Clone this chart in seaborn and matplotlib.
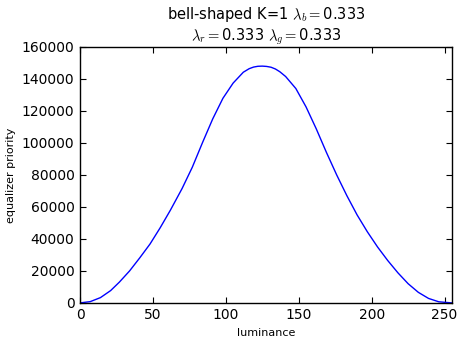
import numpy as np
import seaborn as sns
from matplotlib import pyplot as plt

# values
luminance = [0, 7, 14, 21, 27, 34, 41, 48, 55, 62, 70, 77, 84, 91, 98, 105, 112, 116,
             119, 122, 125, 128, 131, 134, 137, 141, 148, 155, 162, 169, 176, 183, 190,
             197, 204, 211, 218, 225, 232, 239, 246, 255]
priority = [0, 800, 3300, 7700, 13000, 20000, 28200, 36800, 47000, 58000, 71500, 84800,
            100200, 115000, 127900, 137400, 144200, 146400, 147400, 147900, 148000, 147800,
            147300, 146200, 144500, 141500, 134000, 122500, 108800, 94000, 80000, 67000,
            55000, 44500, 35000, 26500, 18800, 12000, 6600, 2800, 700, 0]

sns.set_style("white")
plt.rcParams.update({
    "font.family": ["DejaVu Sans"],
    "mathtext.fontset": "cm",
    "text.color": "black",
    "axes.labelcolor": "black",
    "xtick.color": "black",
    "ytick.color": "black",
    "xtick.direction": "in",
    "ytick.direction": "in",
    "xtick.top": True,
    "ytick.right": True,
    "xtick.bottom": True,
    "ytick.left": True,
    "xtick.major.size": 4,
    "ytick.major.size": 4,
    "axes.edgecolor": "black",
    "axes.linewidth": 1.0,
})

fig = plt.figure(figsize=(4.63, 3.45), dpi=100)
ax = fig.add_axes([0.1728, 0.122, 0.8032, 0.742])

sns.lineplot(x=luminance, y=priority, ax=ax, color="#0000ff", linewidth=1.0)

ax.set_xlim(0, 255)
ax.set_ylim(0, 160000)
ax.set_xticks([0, 50, 100, 150, 200, 250])
ax.set_yticks(np.arange(0, 160001, 20000))
ax.tick_params(labelsize=10, pad=4)
ax.set_xlabel("luminance", fontsize=8)
ax.set_ylabel("equalizer priority", fontsize=8)
ax.set_title("bell-shaped K=1 $\\lambda_b=$0.333\n$\\lambda_r=$0.333 $\\lambda_g=$0.333",
             fontsize=10.5, linespacing=1.15, pad=4)

fig.savefig("out.png", dpi=100)
